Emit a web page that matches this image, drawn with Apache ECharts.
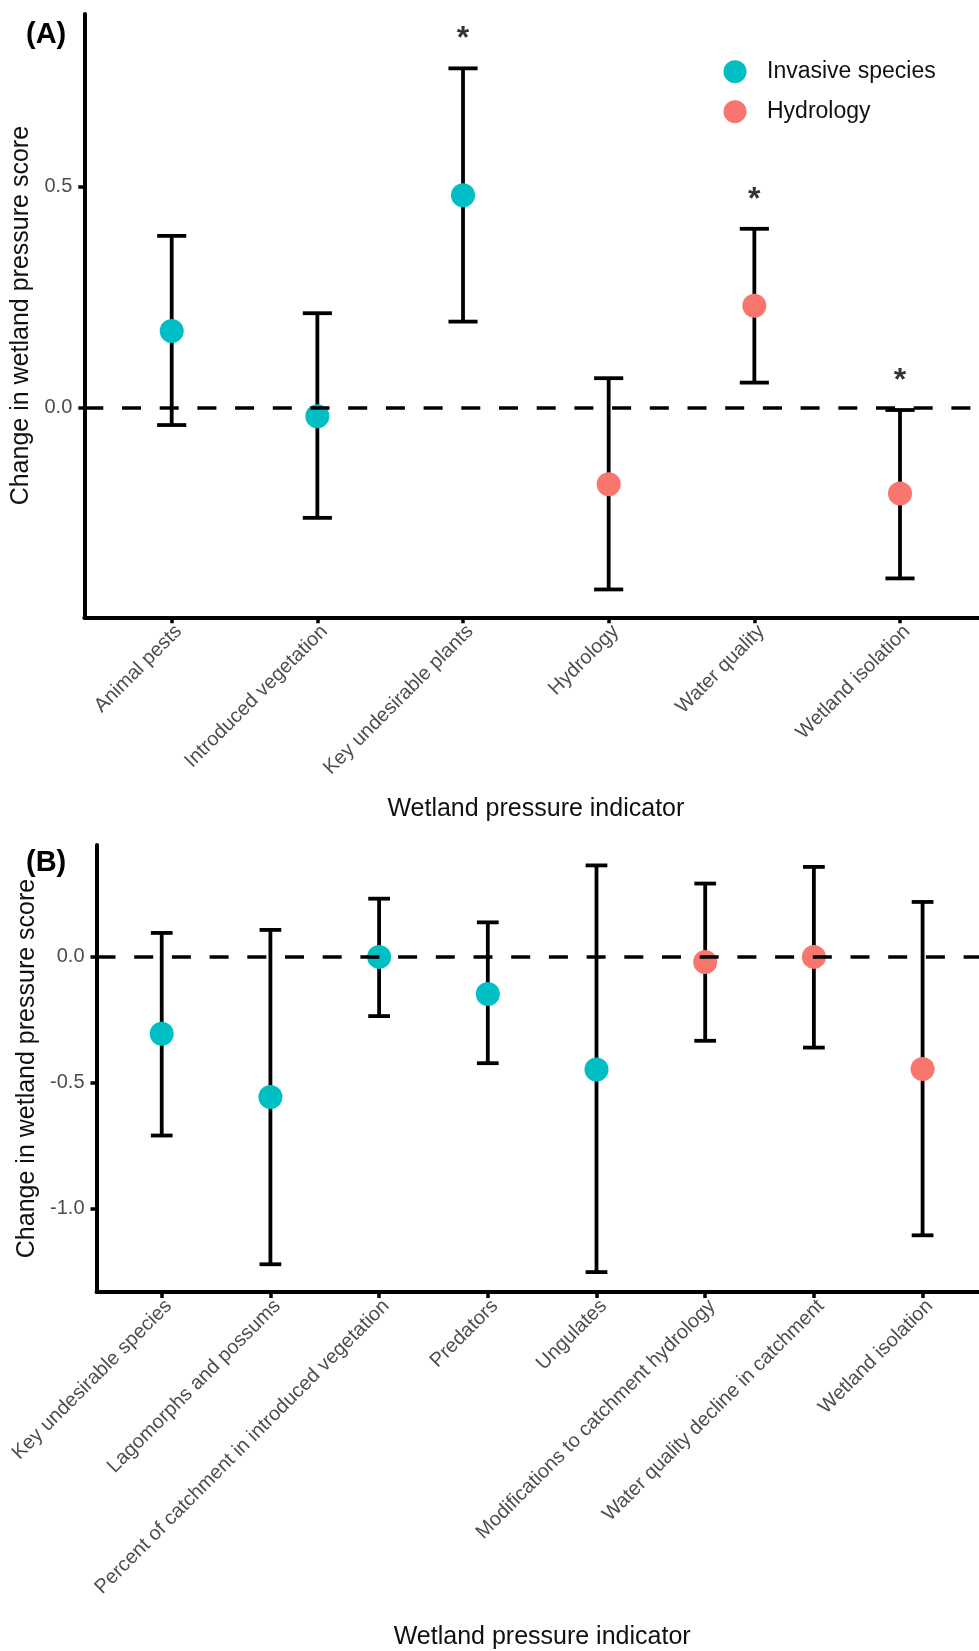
<!DOCTYPE html>
<html>
<head>
<meta charset="utf-8">
<script src="https://cdn.jsdelivr.net/npm/echarts@6/dist/echarts.min.js"></script>
<style>
  html, body { margin: 0; padding: 0; background: #fff; overflow: hidden; }
  #chart { width: 988px; height: 1651px; }
</style>
</head>
<body>
<div id="chart"></div>
<script>
// ---- Panel A: wetland pressure indicators ----
const catsA = ['Animal pests', 'Introduced vegetation', 'Key undesirable plants', 'Hydrology', 'Water quality', 'Wetland isolation'];
const groupA = ['Invasive species', 'Invasive species', 'Invasive species', 'Hydrology', 'Hydrology', 'Hydrology'];
const meanA = [0.173, -0.020, 0.480, -0.174, 0.230, -0.195];
const lowerA = [-0.040, -0.250, 0.194, -0.412, 0.056, -0.387];
const upperA = [0.388, 0.213, 0.767, 0.066, 0.404, -0.006];
const signifA = [false, false, true, false, true, true];
const yTicksA = [0, 0.5];

// ---- Panel B: catchment-scale pressure indicators ----
const catsB = ['Key undesirable species', 'Lagomorphs and possums', 'Percent of catchment in introduced vegetation', 'Predators', 'Ungulates', 'Modifications to catchment hydrology', 'Water quality decline in catchment', 'Wetland isolation'];
const groupB = ['Invasive species', 'Invasive species', 'Invasive species', 'Invasive species', 'Invasive species', 'Hydrology', 'Hydrology', 'Hydrology'];
const meanB = [-0.305, -0.556, 0.000, -0.147, -0.447, -0.020, 0.000, -0.445];
const lowerB = [-0.709, -1.220, -0.235, -0.422, -1.251, -0.333, -0.360, -1.105];
const upperB = [0.095, 0.107, 0.231, 0.137, 0.363, 0.291, 0.357, 0.218];
const signifB = [false, false, false, false, false, false, false, false];
const yTicksB = [-1.0, -0.5, 0];

const groups = ['Invasive species', 'Hydrology'];
const groupColors = { 'Invasive species': '#00BFC4', 'Hydrology': '#F8766D' };

const FONT = 'Liberation Sans, Arial, Helvetica, sans-serif';
const INK = '#000000';
const TICK_GREY = '#4D4D4D';

const panels = [
  { cats: catsA, group: groupA, mean: meanA, lower: lowerA, upper: upperA, signif: signifA, yTicks: yTicksA,
    grid: { left: 84.3, top: 14, width: 903.1, height: 603.3 }, yMin: -0.475, yMax: 0.89,
    yNameGap: 41, xNameGap: 179.5 },
  { cats: catsB, group: groupB, mean: meanB, lower: lowerB, upper: upperB, signif: signifB, yTicks: yTicksB,
    grid: { left: 96.5, top: 845, width: 891.3, height: 452.5 }, yMin: -1.330, yMax: 0.444,
    yNameGap: 52.5, xNameGap: 333 }
];

const grids = [], xAxes = [], yAxes = [], series = [];

panels.forEach((p, k) => {
  const idx = p.cats.map((_, i) => i);
  grids.push(Object.assign({ containLabel: false }, p.grid));

  xAxes.push({
    gridIndex: k, type: 'value', min: -0.6, max: p.cats.length - 0.4,
    name: 'Wetland pressure indicator', nameLocation: 'middle', nameGap: p.xNameGap,
    nameTextStyle: { fontFamily: FONT, fontSize: 25, color: '#111' },
    splitLine: { show: false },
    axisLine: { onZero: false, lineStyle: { color: INK, width: 4 } },
    axisTick: { customValues: idx, length: 6, lineStyle: { color: INK, width: 3.5 } },
    axisLabel: {
      customValues: idx, formatter: v => p.cats[Math.round(v)],
      rotate: 45, align: 'right', verticalAlign: 'top', margin: 4,
      fontFamily: FONT, fontSize: 20, color: TICK_GREY
    }
  });

  yAxes.push({
    gridIndex: k, type: 'value', min: p.yMin, max: p.yMax,
    name: 'Change in wetland pressure score', nameLocation: 'middle', nameRotate: 90, nameGap: p.yNameGap,
    nameTextStyle: { fontFamily: FONT, fontSize: 25, color: '#111' },
    splitLine: { show: false },
    axisLine: { onZero: false, lineStyle: { color: INK, width: 4 } },
    axisTick: { customValues: p.yTicks, length: 6, lineStyle: { color: INK, width: 3.5 } },
    axisLabel: {
      customValues: p.yTicks, formatter: v => Number(v).toFixed(1), margin: 12,
      fontFamily: FONT, fontSize: 20, color: TICK_GREY
    }
  });

  // confidence-interval whiskers with end caps
  series.push({
    type: 'custom', name: 'interval', xAxisIndex: k, yAxisIndex: k, z: 2, silent: true,
    data: idx.map(i => [i, p.lower[i], p.upper[i]]),
    encode: { x: 0, y: [1, 2] },
    renderItem: (params, api) => {
      const x = api.value(0);
      const lo = api.coord([x, api.value(1)]);
      const hi = api.coord([x, api.value(2)]);
      const half = api.size([1, 0])[0] * 0.1;
      const style = { stroke: INK, lineWidth: 3.8, fill: null };
      return {
        type: 'group',
        children: [
          { type: 'line', shape: { x1: hi[0], y1: hi[1], x2: lo[0], y2: lo[1] }, style },
          { type: 'line', shape: { x1: hi[0] - half, y1: hi[1], x2: hi[0] + half, y2: hi[1] }, style },
          { type: 'line', shape: { x1: lo[0] - half, y1: lo[1], x2: lo[0] + half, y2: lo[1] }, style }
        ]
      };
    },
    // reference line at zero change
    markLine: {
      silent: true, symbol: ['none', 'none'], label: { show: false },
      lineStyle: { color: INK, width: 3.6, type: [19, 18.7] },
      data: [{ yAxis: 0 }]
    }
  });

  // point estimates, one series per pressure group
  groups.forEach(g => {
    series.push({
      type: 'scatter', name: g, xAxisIndex: k, yAxisIndex: k, z: 4,
      symbol: 'circle', symbolSize: 24,
      itemStyle: { color: groupColors[g], opacity: 1 },
      data: idx.filter(i => p.group[i] === g).map(i => [i, p.mean[i]])
    });
  });

  // significance markers above the upper whisker
  series.push({
    type: 'scatter', name: 'significance', xAxisIndex: k, yAxisIndex: k, z: 5, silent: true,
    symbolSize: 0,
    data: idx.filter(i => p.signif[i]).map(i => [i, p.upper[i]]),
    label: {
      show: true, formatter: '*', position: 'inside', offset: [0, -29],
      fontFamily: FONT, fontSize: 32, fontWeight: 'bold', color: INK
    }
  });
});

const chart = echarts.init(document.getElementById('chart'), null, { renderer: 'canvas' });
chart.setOption({
  animation: false,
  backgroundColor: '#ffffff',
  title: [
    { text: '(A)', left: 21, top: 15, textStyle: { fontFamily: FONT, fontSize: 29, fontWeight: 'bold', color: INK } },
    { text: '(B)', left: 21, top: 843, textStyle: { fontFamily: FONT, fontSize: 29, fontWeight: 'bold', color: INK } }
  ],
  legend: {
    data: groups, orient: 'vertical', left: 723.5, top: 60.2, padding: 0,
    itemWidth: 23, itemHeight: 23, itemGap: 17, icon: 'circle',
    textStyle: { fontFamily: FONT, fontSize: 23, color: '#111', padding: [0, 0, 0, 15.5] }
  },
  grid: grids,
  xAxis: xAxes,
  yAxis: yAxes,
  series: series
});
</script>
</body>
</html>
